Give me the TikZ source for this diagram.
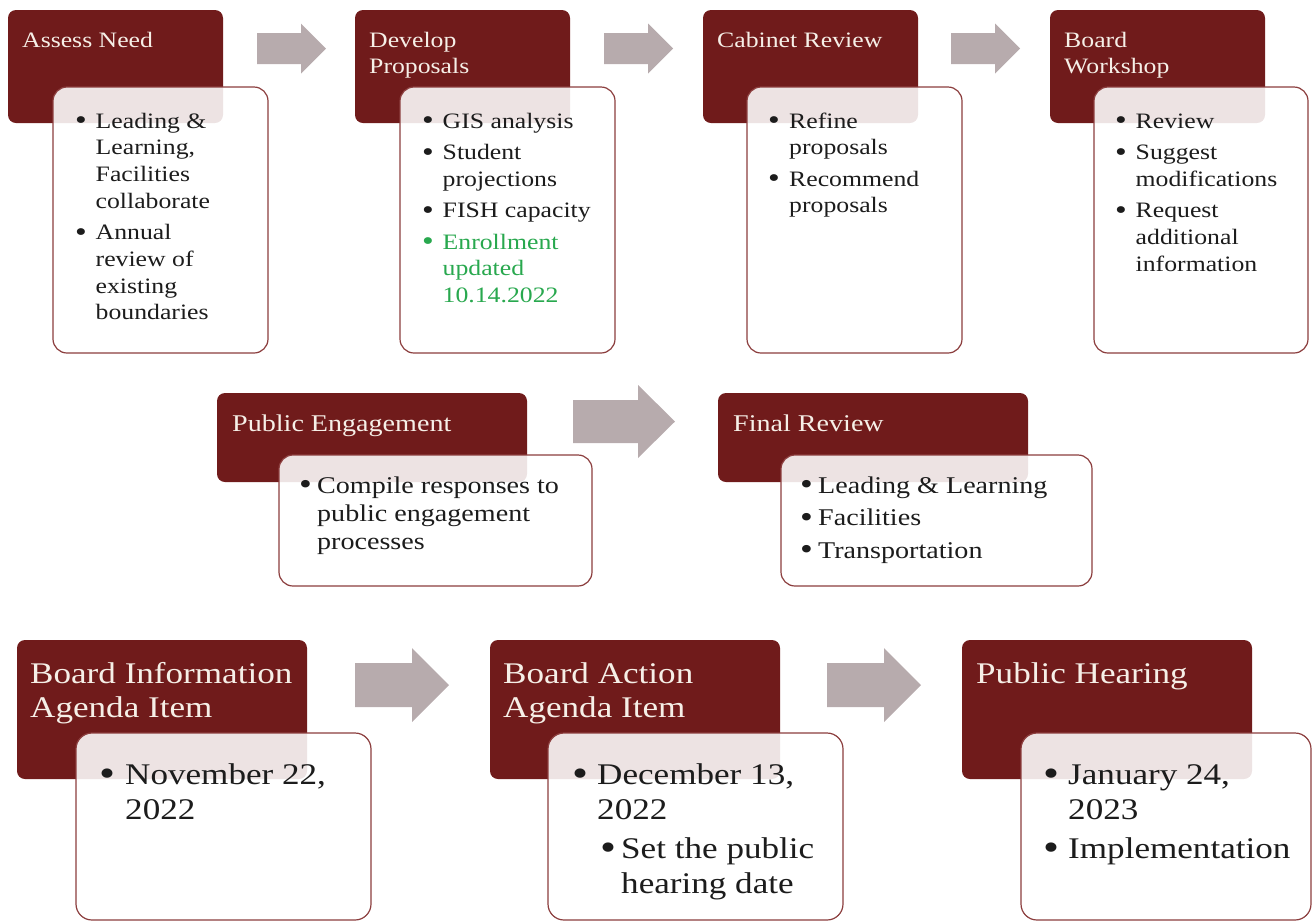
\documentclass[tikz,border=0pt]{standalone}
\usepackage{fontspec}
\usepackage{graphicx}
\setmainfont{Liberation Serif}[FakeStretch=1.17]
\definecolor{darkred}{RGB}{112,27,27}
\definecolor{arrowc}{RGB}{183,171,173}
\definecolor{boxline}{RGB}{140,62,62}
\definecolor{headtxt}{RGB}{246,239,231}
\definecolor{greentxt}{RGB}{40,168,78}
\definecolor{bodytxt}{RGB}{28,28,28}
\newcommand{\bigbul}{\raisebox{-0.07em}{\scalebox{1.3}{\textbullet}}}
\newcommand{\itm}[3][0pt]{\par\hangindent=\dimexpr#1+#2\relax\hangafter=1\noindent\hspace*{#1}\makebox[#2][l]{\bigbul}#3}
\newcommand{\blockarrow}[6]{\fill[arrowc] (#1,#4-#5) -- (#2,#4-#5) -- (#2,#4-#6) -- (#3,#4) -- (#2,#4+#6) -- (#2,#4+#5) -- (#1,#4+#5) -- cycle;}
\newcommand{\rowone}{\fontsize{22}{26.7}\selectfont\setlength{\parskip}{4.8pt}}
\newcommand{\rowtwo}{\fontsize{24}{28}\selectfont\setlength{\parskip}{4.5pt}}
\newcommand{\rowthree}{\fontsize{30}{35}\selectfont\setlength{\parskip}{4pt}}
\begin{document}
\begin{tikzpicture}[x=1pt,y=-1pt,
  darkbox/.style={fill=darkred, rounded corners=8pt, anchor=north west, inner sep=0, outer sep=0},
  whitebox/.style={draw=boxline, line width=1.2pt, fill=white, fill opacity=0.88, rounded corners=14pt, anchor=north west, inner sep=0, outer sep=0},
  headtext/.style={anchor=base west, inner sep=0, text=headtxt},
  bodytext/.style={anchor=base west, inner sep=0, text=bodytxt}]
\useasboundingbox (0,0) rectangle (1312,922);
% ---------- row 1 ----------
\node[darkbox, minimum width=215, minimum height=113] (d1) at (8,10) {};
\node[darkbox, minimum width=215, minimum height=113] (d2) at (355,10) {};
\node[darkbox, minimum width=215, minimum height=113] (d3) at (703,10) {};
\node[darkbox, minimum width=215, minimum height=113] (d4) at (1050,10) {};
\node[headtext] (h1) at (22,47) {\parbox[t]{200pt}{\raggedright\fontsize{22}{26}\selectfont Assess Need}};
\node[headtext] (h2) at (369,47) {\parbox[t]{200pt}{\raggedright\fontsize{22}{26}\selectfont Develop\\Proposals}};
\node[headtext] (h3) at (717,47) {\parbox[t]{200pt}{\raggedright\fontsize{22}{26}\selectfont Cabinet Review}};
\node[headtext] (h4) at (1064,47) {\parbox[t]{200pt}{\raggedright\fontsize{22}{26}\selectfont Board\\Workshop}};
\node[whitebox, minimum width=215, minimum height=266] (w1) at (53,87) {};
\node[whitebox, minimum width=215, minimum height=266] (w2) at (400,87) {};
\node[whitebox, minimum width=215, minimum height=266] (w3) at (747,87) {};
\node[whitebox, minimum width=214, minimum height=266] (w4) at (1094,87) {};
\node[bodytext] (b1) at (75,128) {\parbox[t]{300pt}{\rowone
  \itm{20.5pt}{Leading \&\\Learning,\\Facilities\\collaborate}
  \itm{20.5pt}{Annual\\review of\\existing\\boundaries}}};
\node[bodytext] (b2) at (422,128) {\parbox[t]{300pt}{\rowone
  \itm{20.5pt}{GIS analysis}
  \itm{20.5pt}{Student\\projections}
  \itm{20.5pt}{FISH capacity}
  \color{greentxt}\itm{20.5pt}{Enrollment\\updated\\10.14.2022}}};
\node[bodytext] (b3) at (768,128) {\parbox[t]{300pt}{\rowone
  \itm{21pt}{Refine\\proposals}
  \itm{21pt}{Recommend\\proposals}}};
\node[bodytext] (b4) at (1115,128) {\parbox[t]{300pt}{\rowone
  \itm{20.5pt}{Review}
  \itm{20.5pt}{Suggest\\modifications}
  \itm{20.5pt}{Request\\additional\\information}}};
\blockarrow{257}{301}{326}{48.5}{15.5}{25}
\blockarrow{604}{648}{673}{48.5}{15.5}{25}
\blockarrow{951}{995}{1020}{48.5}{15.5}{25}
% ---------- row 2 ----------
\node[darkbox, minimum width=310, minimum height=89] (d5) at (217,393) {};
\node[darkbox, minimum width=310, minimum height=89] (d6) at (718,393) {};
\node[headtext] (h5) at (232,431) {\parbox[t]{300pt}{\raggedright\fontsize{24}{28}\selectfont Public Engagement}};
\node[headtext] (h6) at (733,431) {\parbox[t]{300pt}{\raggedright\fontsize{24}{28}\selectfont Final Review}};
\node[whitebox, minimum width=313, minimum height=131] (w5) at (279,455) {};
\node[whitebox, minimum width=311, minimum height=131] (w6) at (781,455) {};
\node[bodytext] (b5) at (299,493) {\parbox[t]{300pt}{\rowtwo
  \itm{18pt}{Compile responses to\\public engagement\\processes}}};
\node[bodytext] (b6) at (800,493) {\parbox[t]{300pt}{\rowtwo
  \itm{18pt}{Leading \& Learning}
  \itm{18pt}{Facilities}
  \itm{18pt}{Transportation}}};
\blockarrow{573}{638}{675}{421.5}{21.5}{36.5}
% ---------- row 3 ----------
\node[darkbox, minimum width=290, minimum height=139] (d7) at (17,640) {};
\node[darkbox, minimum width=290, minimum height=139] (d8) at (490,640) {};
\node[darkbox, minimum width=290, minimum height=139] (d9) at (962,640) {};
\node[headtext] (h7) at (30,683) {\parbox[t]{300pt}{\raggedright\fontsize{30}{34}\selectfont Board Information\\Agenda Item}};
\node[headtext] (h8) at (503,683) {\parbox[t]{300pt}{\raggedright\fontsize{30}{34}\selectfont Board Action\\Agenda Item}};
\node[headtext] (h9) at (976,683) {\parbox[t]{300pt}{\raggedright\fontsize{30}{34}\selectfont Public Hearing}};
\node[whitebox, minimum width=295, minimum height=187, rounded corners=16pt] (w7) at (76,733) {};
\node[whitebox, minimum width=295, minimum height=187, rounded corners=16pt] (w8) at (548,733) {};
\node[whitebox, minimum width=290, minimum height=187, rounded corners=16pt] (w9) at (1021,733) {};
\node[bodytext] (b7) at (99,784) {\parbox[t]{300pt}{\rowthree
  \itm{26pt}{November 22,\\2022}}};
\node[bodytext] (b8) at (572,784) {\parbox[t]{300pt}{\rowthree
  \itm{25pt}{December 13,\\2022}
  \itm[28pt]{21pt}{Set the public\\hearing date}}};
\node[bodytext] (b9) at (1043,784) {\parbox[t]{300pt}{\rowthree
  \itm{25pt}{January 24,\\2023}
  \itm{25pt}{Implementation}}};
\blockarrow{355}{412}{449}{685}{22}{37}
\blockarrow{827}{884}{921}{685}{22}{37}
\end{tikzpicture}
\end{document}
